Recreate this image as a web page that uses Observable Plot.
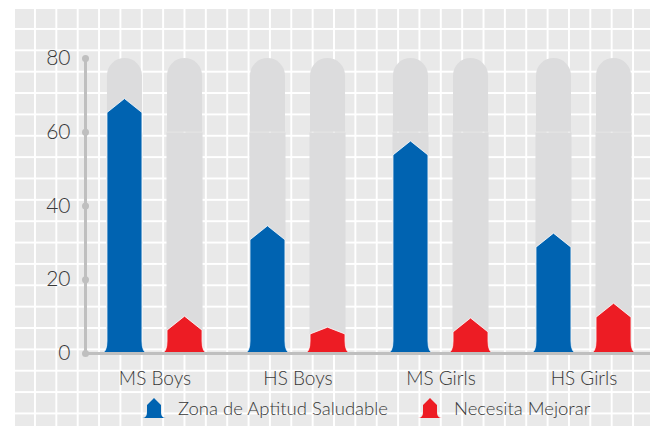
<!DOCTYPE html>
<html><head><meta charset="utf-8">
<script src="https://cdn.jsdelivr.net/npm/d3@7"></script>
<script src="https://cdn.jsdelivr.net/npm/@observablehq/plot@0.6"></script>
<style>
body{margin:0;background:#fff;}
#wrap{position:relative;width:650px;height:426px;overflow:hidden;font-family:Lato,"Noto Sans",sans-serif;font-weight:300;color:#383838;}
#bg{position:absolute;left:15px;top:9px;right:0;bottom:0;background-color:#e9e9e9;
background-image:linear-gradient(to right,#fff 2px,transparent 2px),linear-gradient(to bottom,#fff 2px,transparent 2px);
background-size:21.37px 21.37px;background-position:19px 19px;}
#chart{position:relative;}
.legend{position:relative;height:32px;display:flex;align-items:center;font-size:18.5px;padding-left:142px;white-space:nowrap;}
.legend svg{display:block;}
</style>
</head><body>
<div id="wrap"><div id="bg"></div><div id="chart"></div></div>
<script>
const groups = ["MS Boys", "HS Boys", "MS Girls", "HS Girls"];
const series = ["Zona de Aptitud Saludable", "Necesita Mejorar"];
const saludable = [69, 34.5, 57.5, 32.5];
const mejorar = [10, 7, 9.5, 13.5];
const yTicks = [0, 20, 40, 60, 80];
const colors = ["#0063b1", "#ed1c24"];

const rows = groups.flatMap((g, i) => [
  {group: g, i, s: 0, value: saludable[i]},
  {group: g, i, s: 1, value: mejorar[i]}
]);

const xDomain = [-0.486, 3.465];
const offsets = [-0.21, 0.21];
const barHalf = 0.1224;
const gray = "#dcdcdd";

function columnsMark(index, scales) {
  const {x, y} = scales;
  const g = d3.create("svg:g");
  const hw = x(barHalf) - x(0);
  const yTop = y(80), yMid = y(60), y0 = y(0);
  for (const r of rows) {
    const cx = x(r.i + offsets[r.s]);
    g.append("rect").attr("x", cx - hw - 0.5).attr("y", yMid + 0.7)
      .attr("width", 2 * hw + 1).attr("height", y0 - yMid - 0.7).attr("fill", gray);
    g.append("path")
      .attr("d", `M${cx - hw},${yMid} V${yTop + hw} A${hw},${hw} 0 0 1 ${cx + hw},${yTop + hw} V${yMid} Z`)
      .attr("fill", gray);
  }
  return g.node();
}

function barsMark(index, scales) {
  const {x, y} = scales;
  const g = d3.create("svg:g");
  const hw = x(barHalf) - x(0);
  const y0 = y(0);
  for (const r of rows) {
    const cx = x(r.i + offsets[r.s]);
    const ya = y(r.value);
    const h = y0 - ya;
    const tip = Math.max(0, Math.min(14, h - 19));
    const fh = 12, fw = 6;
    const d = `M${cx - hw - fw},${y0} Q${cx - hw},${y0} ${cx - hw},${y0 - fh} V${ya + tip} L${cx},${ya} L${cx + hw},${ya + tip} V${y0 - fh} Q${cx + hw},${y0} ${cx + hw + fw},${y0} Z`;
    g.append("path").attr("d", d).attr("fill", colors[r.s])
      .attr("stroke", "#fff").attr("stroke-width", 0.8);
  }
  return g.node();
}

const chart = Plot.plot({
  width: 650, height: 392,
  marginLeft: 85, marginRight: 0, marginTop: 58, marginBottom: 39,
  style: {background: "transparent", fontFamily: "Lato", fontWeight: 300, color: "#383838", overflow: "visible"},
  x: {type: "linear", domain: xDomain},
  y: {domain: [0, 80]},
  marks: [
    columnsMark,
    barsMark,
    Plot.ruleX([xDomain[0]], {y1: 0, y2: 80, stroke: "#bfbfbf", strokeWidth: 3}),
    Plot.ruleY([0], {stroke: "#bfbfbf", strokeWidth: 3}),
    Plot.dot(yTicks, {x: () => xDomain[0], y: d => d, r: 3.5, fill: "#bfbfbf"}),
    Plot.axisY(yTicks, {tickSize: 0, tickPadding: 15, fontSize: 21, fontWeight: 300, fill: "#383838", label: null}),
    Plot.axisX(groups.map((_, i) => i), {tickSize: 0, tickPadding: 18, tickFormat: i => groups[i], fontSize: 19, fontWeight: 300, fill: "#383838", label: null})
  ]
});
document.getElementById("chart").appendChild(chart);

function icon(color) {
  const svg = d3.create("svg").attr("width", 24).attr("height", 20).attr("viewBox", "0 0 24 20");
  svg.append("path").attr("d", "M0,20 Q5,20 5,14 L5,7 L12,0 L19,7 L19,14 Q19,20 24,20 Z").attr("fill", color);
  return svg.node();
}
const legend = d3.select("#chart").append("div").attr("class", "legend");
series.forEach((s, k) => {
  const item = legend.append("div").style("display", "flex").style("align-items", "center")
    .style("margin-right", k === 0 ? "30px" : "0");
  item.node().appendChild(icon(colors[k]));
  item.append("span").style("margin-left", "12px").text(s);
});
</script>
</body></html>
